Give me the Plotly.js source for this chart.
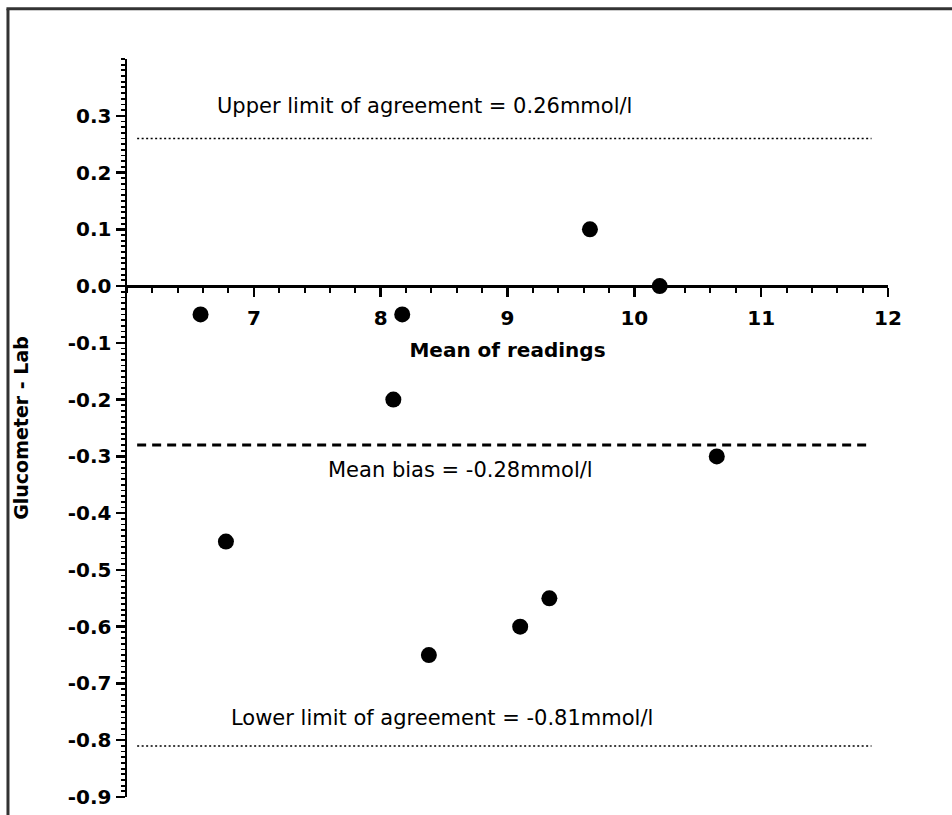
<!DOCTYPE html>
<html>
<head>
<meta charset="utf-8">
<script src="https://cdn.plot.ly/plotly-3.0.1.min.js"></script>
<style>html,body{margin:0;padding:0;background:#fff;}</style>
</head>
<body>
<div id="chart" style="width:952px;height:815px;"></div>
<script>
// Bland-Altman data: mean of readings vs. difference (Glucometer - Lab)
const meanReadings = [6.58, 8.17, 9.65, 10.2, 8.10, 10.65, 6.78, 8.38, 9.10, 9.33];
const differences  = [-0.05, -0.05, 0.10, 0.00, -0.20, -0.30, -0.45, -0.65, -0.60, -0.55];

const upperLimit = 0.26;
const meanBias = -0.28;
const lowerLimit = -0.81;
const limitX = [6.08, 11.87];

const xTickVals = [7, 8, 9, 10, 11, 12];
const yTickVals = [-0.9, -0.8, -0.7, -0.6, -0.5, -0.4, -0.3, -0.2, -0.1, 0.0, 0.1, 0.2, 0.3];
const yTickText = ['-0.9', '-0.8', '-0.7', '-0.6', '-0.5', '-0.4', '-0.3', '-0.2', '-0.1', '0.0', '0.1', '0.2', '0.3'];

const upperLabel = 'Upper limit of agreement = 0.26mmol/l';
const biasLabel = 'Mean bias = -0.28mmol/l';
const lowerLabel = 'Lower limit of agreement = -0.81mmol/l';

const FONT = 'DejaVu Sans, Liberation Sans, Arial, sans-serif';

const traces = [
  {
    x: limitX, y: [upperLimit, upperLimit], mode: 'lines', type: 'scatter',
    line: {color: '#000', width: 1.5, dash: '2px,2.5px'}, hoverinfo: 'skip', showlegend: false
  },
  {
    x: limitX, y: [meanBias, meanBias], mode: 'lines', type: 'scatter',
    line: {color: '#000', width: 3, dash: '9px,6px'}, hoverinfo: 'skip', showlegend: false
  },
  {
    x: limitX, y: [lowerLimit, lowerLimit], mode: 'lines', type: 'scatter',
    line: {color: '#000', width: 1.5, dash: '2px,2.5px'}, hoverinfo: 'skip', showlegend: false
  },
  {
    x: meanReadings, y: differences, mode: 'markers', type: 'scatter',
    marker: {color: '#000', size: 16}, showlegend: false, cliponaxis: false
  }
];

const layout = {
  width: 952, height: 815,
  margin: {l: 127, r: 64, t: 59, b: 18, pad: 0},
  paper_bgcolor: '#fff', plot_bgcolor: '#fff',
  font: {family: FONT, color: '#000'},
  showlegend: false,
  xaxis: {
    range: [6, 12],
    anchor: 'free',
    position: 0.9 / 1.3,
    showgrid: false, zeroline: false,
    showline: true, linecolor: '#000', linewidth: 2.5,
    tickmode: 'array', tickvals: xTickVals, ticktext: xTickVals.map(String),
    ticks: 'outside', ticklen: 9, tickwidth: 2.5, tickcolor: '#000',
    ticklabelstandoff: 4,
    tickfont: {family: FONT, size: 20, color: '#000', weight: 'bold'},
    minor: {dtick: 0.2, tick0: 6, ticks: 'outside', ticklen: 5, tickwidth: 2, tickcolor: '#000', showgrid: false},
    title: {text: '<b>Mean of readings</b>', font: {family: FONT, size: 20, color: '#000'}, standoff: 14}
  },
  yaxis: {
    range: [-0.9, 0.4],
    showgrid: false, zeroline: false,
    showline: true, linecolor: '#000', linewidth: 2.5,
    tickmode: 'array', tickvals: yTickVals, ticktext: yTickText,
    ticks: 'outside', ticklen: 9, tickwidth: 2.5, tickcolor: '#000',
    tickfont: {family: FONT, size: 20, color: '#000', weight: 'bold'},
    minor: {dtick: 0.01, tick0: 0, ticks: 'outside', ticklen: 4, tickwidth: 1.8, tickcolor: '#000', showgrid: false},
    title: {text: '<b>Glucometer - Lab</b>', font: {family: FONT, size: 19, color: '#000'}, standoff: 34}
  },
  annotations: [
    {x: 8.346, y: 0.3176, xref: 'x', yref: 'y', text: upperLabel, showarrow: false,
     font: {family: FONT, size: 21, color: '#000'}, xanchor: 'center', yanchor: 'middle'},
    {x: 8.633, y: -0.3238, xref: 'x', yref: 'y', text: biasLabel, showarrow: false,
     font: {family: FONT, size: 21, color: '#000'}, xanchor: 'center', yanchor: 'middle'},
    {x: 8.484, y: -0.7604, xref: 'x', yref: 'y', text: lowerLabel, showarrow: false,
     font: {family: FONT, size: 21, color: '#000'}, xanchor: 'center', yanchor: 'middle'}
  ],
  shapes: [
    {type: 'line', xref: 'paper', yref: 'paper', x0: -0.1564, x1: -0.1564, y0: 1.068, y1: -0.03,
     line: {color: '#333', width: 3}},
    {type: 'line', xref: 'paper', yref: 'paper', x0: -0.1584, x1: 1.09, y0: 1.068, y1: 1.068,
     line: {color: '#333', width: 3}}
  ]
};

Plotly.newPlot('chart', traces, layout, {displayModeBar: false, staticPlot: true});
</script>
</body>
</html>
